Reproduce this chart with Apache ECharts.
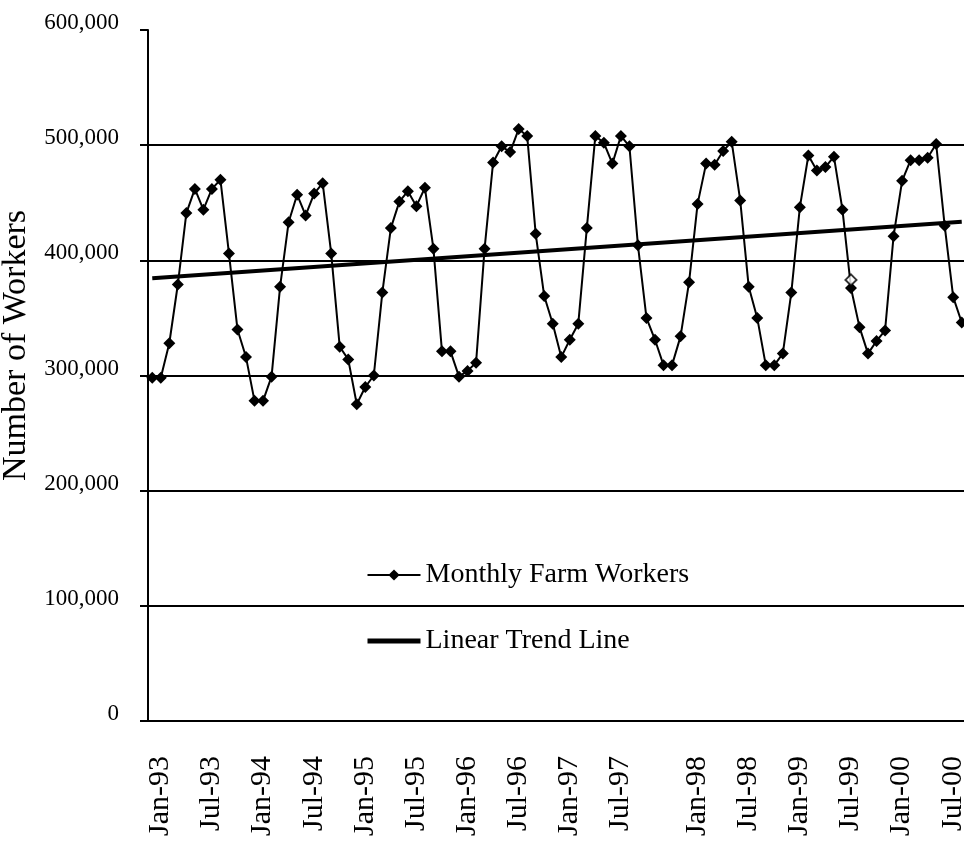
<html>
<head>
    <meta charset="utf-8">
    <title>Monthly Farm Workers</title>
    <script src="https://cdn.jsdelivr.net/npm/echarts@6.0.0/dist/echarts.min.js"></script>
    <style type="text/css">
        html,body{
            margin:0;
            padding:0;
            background:#fff;
        }
        #main{
            width:964px;
            height:850px;
        }
    </style>
</head>
<body>
    <div id="main"></div>
    <script type="text/javascript">
        // monthly data, Jan-93 .. Dec-00
        var monthNames=['Jan','Feb','Mar','Apr','May','Jun','Jul','Aug','Sep','Oct','Nov','Dec'];
        var years=['93','94','95','96','97','98','99','00'];
        var workers=[
            298000,298000,328000,379000,441000,462000,444000,462000,470000,406000,340000,316000,
            278000,278000,299000,377000,433000,457000,439000,458000,467000,406000,325000,314000,
            275000,290000,300000,372000,428000,451000,460000,447000,463000,410000,321000,321000,
            299000,304000,311000,410000,485000,499000,494000,514000,508000,423000,369000,345000,
            316000,331000,345000,428000,508000,502000,484000,508000,499000,413000,350000,331000,
            309000,309000,334000,381000,449000,484000,483000,495000,503000,452000,377000,350000,
            309000,309000,319000,372000,446000,491000,478000,481000,490000,444000,376000,342000,
            319000,330000,339000,421000,469000,487000,487000,489000,501000,430000,368000,346000
        ];
        // trend line end points (first and last month)
        var trendStart=384500;
        var trendEnd=433500;
        // the single hollow marker [month index, value]
        var hollowPoint=[82,383000];
        // labels shown on the x axis and the month they sit on
        var tickLabels=['Jan-93','Jul-93','Jan-94','Jul-94','Jan-95','Jul-95','Jan-96','Jul-96',
            'Jan-97','Jul-97','Jan-98','Jul-98','Jan-99','Jul-99','Jan-00','Jul-00'];
        var tickLabelIndex=[0,6,12,18,24,30,36,42,48,54,63,69,75,81,87,93];

        var categories=[];
        for(var y=0;y<years.length;y++){
            for(var m=0;m<monthNames.length;m++){
                categories.push(monthNames[m]+'-'+years[y]);
            }
        }
        var trendData=[];
        for(var i=0;i<categories.length;i++){
            trendData[i]=null;
        }
        trendData[0]=trendStart;
        trendData[categories.length-1]=trendEnd;

        var font="'Liberation Serif', 'Times New Roman', serif";
        var myChart=echarts.init(document.getElementById('main'));
        var option={
            backgroundColor:'#fff',
            animation:false,
            textStyle:{fontFamily:font,color:'#000'},
            grid:{
                left:148,
                right:-2,
                top:30,
                bottom:129,
                containLabel:false,
                outerBoundsMode:'none'
            },
            legend:{
                data:[
                    {name:'Monthly Farm Workers'},
                    // plain thick line, no marker in the icon
                    {name:'Linear Trend Line',itemStyle:{opacity:0},lineStyle:{width:5}}
                ],
                orient:'vertical',
                left:360,
                top:555,
                itemWidth:53,
                itemHeight:14,
                itemGap:36,
                textStyle:{
                    fontFamily:font,
                    fontSize:28,
                    color:'#000',
                    lineHeight:30
                }
            },
            xAxis:{
                type:'category',
                data:categories,
                boundaryGap:true,
                axisLine:{lineStyle:{color:'#000',width:2}},
                axisTick:{
                    interval:5,
                    length:8,
                    lineStyle:{color:'#000',width:2}
                },
                axisLabel:{
                    rotate:90,
                    margin:35,
                    fontSize:30,
                    fontFamily:font,
                    color:'#000',
                    verticalAlign:'top',
                    lineHeight:16,
                    interval:function(index){
                        return tickLabelIndex.indexOf(index)>=0;
                    },
                    formatter:function(value,index){
                        var k=tickLabelIndex.indexOf(index);
                        return k>=0?tickLabels[k]:'';
                    }
                },
                splitLine:{show:false}
            },
            yAxis:{
                type:'value',
                min:0,
                max:600000,
                interval:100000,
                name:'Number of Workers',
                nameLocation:'middle',
                nameGap:106,
                nameTextStyle:{
                    fontFamily:font,
                    fontSize:34,
                    color:'#000',
                    padding:[0,0,0,60]
                },
                axisLine:{show:true,lineStyle:{color:'#000',width:2}},
                axisTick:{show:true,length:8,lineStyle:{color:'#000',width:2}},
                axisLabel:{
                    margin:29,
                    fontSize:23,
                    fontFamily:font,
                    color:'#000',
                    verticalAlign:'bottom',
                    lineHeight:14,
                    formatter:function(v){
                        return v.toLocaleString('en-US');
                    }
                },
                splitLine:{
                    show:true,
                    // no grid line at the top of the plot
                    lineStyle:{
                        color:['#000','#000','#000','#000','#000','#000','transparent'],
                        width:2
                    }
                }
            },
            series:[
                {
                    name:'Monthly Farm Workers',
                    type:'line',
                    data:workers,
                    symbol:'diamond',
                    symbolSize:12,
                    showAllSymbol:true,
                    color:'#000',
                    lineStyle:{color:'#000',width:2},
                    itemStyle:{color:'#000'},
                    z:3
                },
                {
                    name:'Linear Trend Line',
                    type:'line',
                    data:trendData,
                    connectNulls:true,
                    symbol:'none',
                    color:'#000',
                    lineStyle:{color:'#000',width:4},
                    z:4
                },
                {
                    name:'hollow',
                    type:'scatter',
                    data:[hollowPoint],
                    symbol:'diamond',
                    symbolSize:11,
                    itemStyle:{color:'#fff',borderColor:'#000',borderWidth:2},
                    z:5
                }
            ]
        };
        myChart.setOption(option);
    </script>
</body>
</html>
